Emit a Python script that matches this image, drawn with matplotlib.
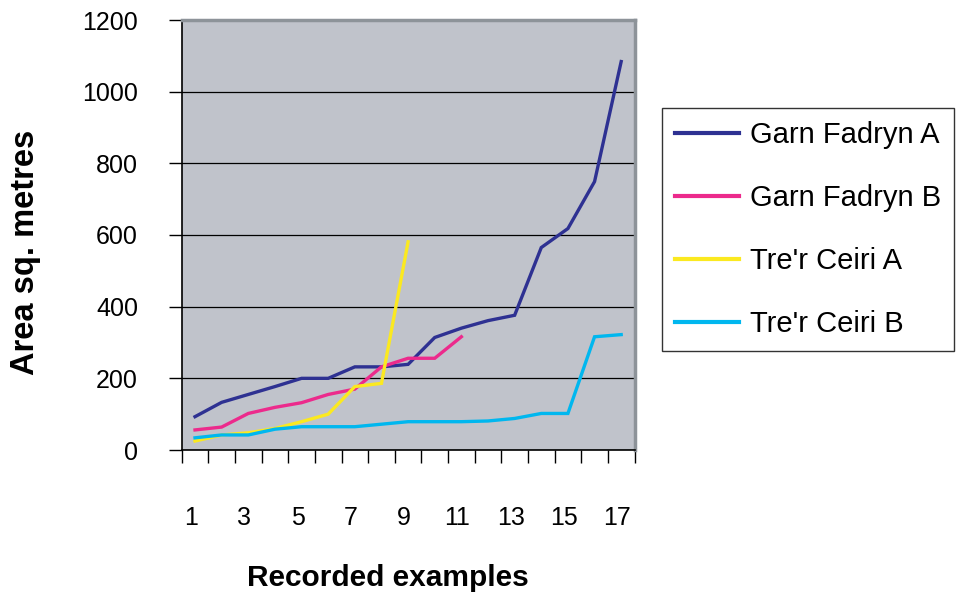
import matplotlib
matplotlib.use("Agg")
import matplotlib.pyplot as plt
import matplotlib.transforms as mtransforms
import numpy as np

plt.rcParams['font.family'] = ['Liberation Sans', 'DejaVu Sans']

examples = list(range(1, 18))
garn_a = [93, 133, 155, 177, 200, 200, 232, 232, 239, 314, 340, 361, 376, 565, 618, 749, 1084]
garn_b = [56, 64, 102, 119, 132, 155, 170, 232, 256, 256, 316]
trer_a = [25, 42, 48, 60, 79, 100, 177, 186, 581]
trer_b = [34, 42, 42, 58, 65, 65, 65, 72, 79, 79, 79, 81, 88, 102, 102, 316, 322]

series = [
    ("Garn Fadryn A", garn_a, "#2E3192"),
    ("Garn Fadryn B", garn_b, "#EC2A8C"),
    ("Tre'r Ceiri A", trer_a, "#FBE920"),
    ("Tre'r Ceiri B", trer_b, "#00B7EF"),
]
y_ticks = [0, 200, 400, 600, 800, 1000, 1200]
x_labels = [1, 3, 5, 7, 9, 11, 13, 15, 17]

W, H = 958, 599
fig = plt.figure(figsize=(W / 100, H / 100), dpi=100)
ax = fig.add_axes([181.7 / W, 1 - 450 / H, 452.8 / W, 430 / H])
ax.set_facecolor("#C0C3CB")

for name, vals, col in series:
    ax.plot(examples[:len(vals)], vals, color=col, lw=2.4, label=name,
            solid_joinstyle='miter', zorder=3)

ax.set_xlim(0.5, 17.5)
ax.set_ylim(0, 1200)
ax.set_yticks(y_ticks)
ax.set_yticklabels([str(v) for v in y_ticks], fontsize=18)
ax.tick_params(axis='y', length=9.5, width=1, pad=22, color='black')
ax.yaxis.grid(True, color='black', lw=0.9)
ax.set_axisbelow(True)

# major ticks at category boundaries, labels on minor ticks at odd categories
ax.set_xticks(np.arange(0.5, 18.0, 1.0))
ax.set_xticklabels([])
ax.tick_params(axis='x', which='major', length=9.5, width=1, color='black')
ax.set_xticks(x_labels, minor=True)
ax.set_xticklabels([str(v) for v in x_labels], minor=True, fontsize=18)
ax.tick_params(axis='x', which='minor', length=0, pad=40)
offset = mtransforms.ScaledTranslation(-4 / 100, 0, fig.dpi_scale_trans)
for lbl in ax.xaxis.get_minorticklabels():
    lbl.set_transform(lbl.get_transform() + offset)

for side in ['top', 'right']:
    ax.spines[side].set_color('#8D9399')
    ax.spines[side].set_linewidth(2.5)
for side in ['left', 'bottom']:
    ax.spines[side].set_color('black')
    ax.spines[side].set_linewidth(1.2)

fig.text(388 / W, 1 - 578 / H, "Recorded examples", fontsize=21.5, fontweight='bold',
         ha='center', va='center')
fig.text(26 / W, 1 - 252 / H, "Area sq. metres", fontsize=23.5, fontweight='bold',
         ha='center', va='center', rotation=90)

leg = fig.legend(loc='upper left', bbox_to_anchor=(662 / W, 1 - 108 / H),
                 fontsize=21, frameon=True, fancybox=False, edgecolor='black',
                 handlelength=2.2, handletextpad=0.35, labelspacing=1.2,
                 borderpad=0.45, borderaxespad=0)
leg.get_frame().set_linewidth(1.0)
for line in leg.get_lines():
    line.set_linewidth(3)

fig.savefig("out.png", dpi=100)
